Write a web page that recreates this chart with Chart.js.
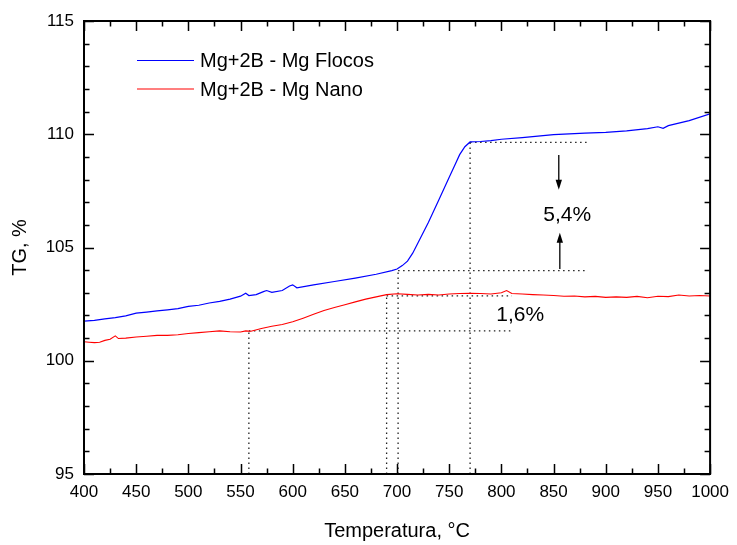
<!DOCTYPE html>
<html>
<head>
<meta charset="utf-8">
<script src="https://cdn.jsdelivr.net/npm/chart.js@4.4.0/dist/chart.umd.min.js"></script>
<style>
html, body { margin: 0; padding: 0; background: #fff; }
#wrap { width: 737px; height: 545px; }
</style>
</head>
<body>
<div id="wrap"><canvas id="tgChart" width="737" height="545"></canvas></div>
<script>
// Curva TG - Mg flocos (temperatura em °C, massa em %)
var flocosTemp = [400, 410, 420, 430, 440, 450, 460, 470, 480, 490, 500, 510, 520, 530, 540, 550, 555, 558, 565, 572, 575, 580, 590, 597, 600, 604, 620, 640, 660, 680, 695, 700, 705, 710, 715, 720, 730, 740, 750, 755, 760, 765, 770, 780, 790, 800, 820, 850, 880, 900, 920, 940, 950, 955, 960, 980, 1000];
var flocosTG = [101.75, 101.78, 101.85, 101.9, 101.98, 102.1, 102.15, 102.2, 102.25, 102.3, 102.4, 102.45, 102.55, 102.62, 102.72, 102.85, 102.98, 102.88, 102.92, 103.05, 103.1, 103.02, 103.1, 103.3, 103.35, 103.22, 103.35, 103.5, 103.65, 103.82, 103.98, 104.05, 104.2, 104.4, 104.75, 105.2, 106.1, 107.1, 108.1, 108.6, 109.1, 109.45, 109.66, 109.68, 109.72, 109.78, 109.85, 109.98, 110.05, 110.08, 110.15, 110.25, 110.33, 110.26, 110.38, 110.6, 110.9];

// Curva TG - Mg nano
var nanoTemp = [400, 405, 410, 415, 420, 425, 430, 433, 440, 450, 460, 470, 480, 490, 500, 510, 520, 530, 540, 550, 555, 560, 570, 580, 590, 600, 610, 620, 630, 640, 650, 660, 670, 680, 690, 700, 710, 720, 730, 740, 750, 760, 770, 780, 790, 800, 805, 810, 820, 830, 840, 850, 860, 870, 880, 890, 900, 910, 920, 930, 940, 950, 960, 970, 980, 990, 1000];
var nanoTG = [100.84, 100.82, 100.8, 100.82, 100.9, 100.95, 101.1, 100.98, 101.0, 101.05, 101.08, 101.12, 101.12, 101.15, 101.2, 101.24, 101.28, 101.32, 101.28, 101.27, 101.32, 101.3, 101.42, 101.52, 101.6, 101.72, 101.88, 102.05, 102.22, 102.35, 102.47, 102.6, 102.72, 102.82, 102.92, 102.96, 102.93, 102.9, 102.93, 102.9, 102.95, 102.97, 102.98, 102.97, 102.95, 103.0, 103.1, 102.97, 102.95, 102.92, 102.9, 102.88, 102.85, 102.86, 102.82, 102.84, 102.8, 102.82, 102.8, 102.84, 102.78, 102.85, 102.83, 102.9, 102.86, 102.88, 102.86];

// linhas pontilhadas de referência: [x1, y1, x2, y2]
var guideLines = [
    [770, 109.64, 882, 109.64],
    [770, 95, 770, 109.64],
    [701, 103.98, 880, 103.98],
    [701, 95, 701, 103.98],
    [690, 102.86, 810, 102.86],
    [690, 95, 690, 102.86],
    [558, 101.32, 810, 101.32],
    [558, 95, 558, 101.32]
];

// setas: [x, yInicio, yPonta]
var arrows = [
    [855, 109.08, 107.55],
    [856, 104.05, 105.65]
];

// textos: [x, y, texto]
var notes = [
    [863, 106.43, '5,4%'],
    [818, 102.0, '1,6%']
];

var seriesLabels = ['Mg+2B - Mg Flocos', 'Mg+2B - Mg Nano'];
var seriesColors = ['#0000ff', '#ff0000'];

function toPoints(xs, ys) {
    return xs.map(function (x, i) { return {x: x, y: ys[i]}; });
}

var datasets = [
    {label: seriesLabels[0], data: toPoints(flocosTemp, flocosTG), borderColor: seriesColors[0], borderWidth: 1.2, pointRadius: 0, tension: 0, order: 1},
    {label: seriesLabels[1], data: toPoints(nanoTemp, nanoTG), borderColor: seriesColors[1], borderWidth: 1.1, pointRadius: 0, tension: 0, order: 1}
];
guideLines.forEach(function (g) {
    datasets.push({
        label: '', data: [{x: g[0], y: g[1]}, {x: g[2], y: g[3]}],
        borderColor: '#222', borderWidth: 1.3, borderDash: [1.5, 3.5],
        pointRadius: 0, order: 2
    });
});

var FONT = "'Liberation Sans', Arial, Helvetica, sans-serif";

var decorPlugin = {
    id: 'decor',
    afterDraw: function (chart) {
        var ctx = chart.ctx;
        var a = chart.chartArea;
        var xs = chart.scales.x, ys = chart.scales.y;
        ctx.save();

        // ticks voltados para dentro, nos quatro lados
        ctx.strokeStyle = '#000';
        ctx.lineWidth = 1.5;
        ctx.beginPath();
        for (var v = xs.min; v <= xs.max; v += 25) {
            var px = Math.round(xs.getPixelForValue(v)) + 0.5;
            var len = (v % 50 === 0) ? 10 : 5.5;
            ctx.moveTo(px, a.bottom); ctx.lineTo(px, a.bottom - len);
            ctx.moveTo(px, a.top); ctx.lineTo(px, a.top + len);
        }
        for (var w = ys.min; w <= ys.max; w += 1) {
            var py = Math.round(ys.getPixelForValue(w)) + 0.5;
            var len2 = (w % 5 === 0) ? 10 : 5.5;
            ctx.moveTo(a.left, py); ctx.lineTo(a.left + len2, py);
            ctx.moveTo(a.right, py); ctx.lineTo(a.right - len2, py);
        }
        ctx.stroke();

        // moldura
        ctx.lineWidth = 2;
        ctx.strokeRect(a.left, a.top, a.right - a.left, a.bottom - a.top);

        // setas
        ctx.lineWidth = 1.3;
        ctx.fillStyle = '#000';
        arrows.forEach(function (ar) {
            var x = xs.getPixelForValue(ar[0]);
            var y0 = ys.getPixelForValue(ar[1]);
            var y1 = ys.getPixelForValue(ar[2]);
            var dir = y1 > y0 ? 1 : -1;
            ctx.beginPath();
            ctx.moveTo(x, y0); ctx.lineTo(x, y1 - dir * 8);
            ctx.stroke();
            ctx.beginPath();
            ctx.moveTo(x, y1);
            ctx.lineTo(x - 3.2, y1 - dir * 10);
            ctx.lineTo(x + 3.2, y1 - dir * 10);
            ctx.closePath();
            ctx.fill();
        });

        // textos
        ctx.font = '21px ' + FONT;
        ctx.textAlign = 'center';
        ctx.textBaseline = 'middle';
        notes.forEach(function (n) {
            ctx.fillText(n[2], xs.getPixelForValue(n[0]), ys.getPixelForValue(n[1]));
        });

        // legenda
        ctx.font = '20px ' + FONT;
        ctx.textAlign = 'left';
        for (var i = 0; i < seriesLabels.length; i++) {
            var ly = 60.5 + i * 28.5;
            ctx.strokeStyle = seriesColors[i];
            ctx.lineWidth = 1.2;
            ctx.beginPath();
            ctx.moveTo(137, ly); ctx.lineTo(194, ly);
            ctx.stroke();
            ctx.fillStyle = '#000';
            ctx.fillText(seriesLabels[i], 200, ly + 1);
        }
        ctx.restore();
    }
};

Chart.defaults.font.family = FONT;
Chart.defaults.color = '#000';

var ctx = document.getElementById('tgChart').getContext('2d');
var myChart = new Chart(ctx, {
    type: 'line',
    data: {datasets: datasets},
    options: {
        responsive: false,
        animation: false,
        layout: {padding: {top: 21, right: 25, left: 0, bottom: 0}},
        plugins: {legend: {display: false}, tooltip: {enabled: false}},
        scales: {
            x: {
                type: 'linear', min: 400, max: 1000,
                ticks: {stepSize: 50, font: {size: 17}, padding: 8, maxRotation: 0,
                        callback: function (v) { return String(v); }},
                grid: {display: false, drawTicks: false},
                border: {display: false},
                title: {display: true, text: 'Temperatura, °C', font: {size: 20}, padding: {top: 0, bottom: 2}},
                afterFit: function (s) { s.height = 71; }
            },
            y: {
                type: 'linear', min: 95, max: 115,
                ticks: {stepSize: 5, font: {size: 17}, padding: 10,
                        callback: function (v) { return String(v); }},
                grid: {display: false, drawTicks: false},
                border: {display: false},
                title: {display: true, text: 'TG, %', font: {size: 20}, padding: {top: 8, bottom: 0}},
                afterFit: function (s) { s.width = 84; }
            }
        }
    },
    plugins: [decorPlugin]
});
</script>
</body>
</html>
